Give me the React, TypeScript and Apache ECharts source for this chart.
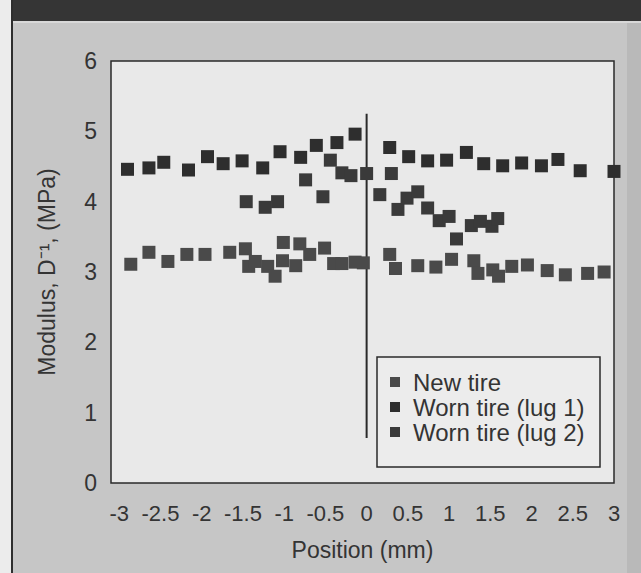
import React, { useEffect, useRef } from "react";
import * as echarts from "echarts";

// Worn tire (lug 1) – upper row
const lug1X = [-2.9, -2.64, -2.46, -2.16, -1.93, -1.74, -1.51, -1.26, -1.05, -0.8, -0.61, -0.36, -0.14, 0.28, 0.51, 0.74, 0.97, 1.21, 1.42, 1.65, 1.88, 2.12, 2.32, 2.59, 3.0];
const lug1Y = [4.46, 4.48, 4.56, 4.45, 4.64, 4.54, 4.58, 4.48, 4.71, 4.63, 4.8, 4.84, 4.96, 4.77, 4.64, 4.58, 4.59, 4.7, 4.54, 4.51, 4.55, 4.51, 4.6, 4.44, 4.43];

// Worn tire (lug 2) – middle group
const lug2X = [-1.46, -1.23, -1.08, -0.74, -0.53, -0.44, -0.3, -0.19, 0.0, 0.16, 0.3, 0.38, 0.49, 0.62, 0.74, 0.88, 1.0, 1.09, 1.27, 1.38, 1.52, 1.59];
const lug2Y = [4.0, 3.92, 4.0, 4.31, 4.07, 4.59, 4.41, 4.37, 4.4, 4.1, 4.4, 3.89, 4.05, 4.14, 3.91, 3.73, 3.79, 3.47, 3.66, 3.72, 3.65, 3.76];

// New tire – lower row
const newX = [-2.86, -2.64, -2.41, -2.18, -1.96, -1.66, -1.47, -1.43, -1.35, -1.2, -1.11, -1.02, -1.01, -0.86, -0.81, -0.69, -0.51, -0.4, -0.3, -0.14, -0.04, 0.28, 0.35, 0.62, 0.84, 1.03, 1.3, 1.35, 1.53, 1.6, 1.76, 1.95, 2.19, 2.41, 2.68, 2.88];
const newY = [3.11, 3.28, 3.15, 3.25, 3.25, 3.28, 3.33, 3.08, 3.15, 3.08, 2.94, 3.16, 3.42, 3.09, 3.4, 3.25, 3.34, 3.12, 3.12, 3.14, 3.13, 3.25, 3.05, 3.09, 3.07, 3.18, 3.16, 2.98, 3.03, 2.94, 3.08, 3.1, 3.02, 2.96, 2.98, 3.0];

// vertical reference line at position 0
const dividerX = [0, 0];
const dividerY = [0.64, 5.25];

const xTicks = [-3, -2.5, -2, -1.5, -1, -0.5, 0, 0.5, 1, 1.5, 2, 2.5, 3];
const seriesNames = ["New tire", "Worn tire (lug 1)", "Worn tire (lug 2)"];

const FONT = "'Liberation Sans', Arial, Helvetica, sans-serif";
const TXT = "#343434";

const zip = (xs: number[], ys: number[]) => xs.map((x, i) => [x, ys[i]]);

export default function App() {
  const ref = useRef<HTMLDivElement>(null);
  useEffect(() => {
    if (!ref.current) return;
    const chart = echarts.init(ref.current, null, { renderer: "svg" });
    const marker = (name: string, data: number[][], color: string) => ({
      name,
      type: "scatter",
      data,
      symbol: "rect",
      symbolSize: 13,
      itemStyle: { color, opacity: 1 },
      z: 3,
    });
    chart.setOption({
      animation: false,
      backgroundColor: "#c6c6c6",
      textStyle: { fontFamily: FONT },
      graphic: [
        { type: "rect", shape: { x: 0, y: 0, width: 11, height: 573 }, style: { fill: "#ececec" }, z: 0 },
        { type: "rect", shape: { x: 11, y: 0, width: 630, height: 21 }, style: { fill: "#353535" }, z: 0 },
        { type: "rect", shape: { x: 11, y: 21, width: 630, height: 2 }, style: { fill: "#d8d8d8" }, z: 0 },
        { type: "rect", shape: { x: 11, y: 0, width: 2, height: 573 }, style: { fill: "#2e2e2e" }, z: 0 },
        { type: "rect", shape: { x: 627, y: 23, width: 14, height: 550 }, style: { fill: "#b9b9b9" }, z: 0 },
        {
          type: "rect",
          shape: { x: 377, y: 357, width: 223, height: 110 },
          style: { fill: "#ececec", stroke: "#2a2a2a", lineWidth: 1.5 },
          z: 5,
        },
      ],
      grid: {
        left: 111,
        right: 27,
        top: 61,
        bottom: 90,
        show: true,
        backgroundColor: "#e9e9e9",
        borderColor: "#2a2a2a",
        borderWidth: 1.5,
      },
      legend: {
        data: seriesNames,
        orient: "vertical",
        left: 390,
        top: 370,
        padding: 0,
        itemWidth: 10,
        itemHeight: 10,
        itemGap: 1,
        icon: "rect",
        z: 6,
        textStyle: { fontSize: 24, lineHeight: 24, color: TXT, fontFamily: FONT, padding: [0, 0, 0, 8] },
      },
      xAxis: {
        type: "value",
        min: -3.1,
        max: 3,
        name: "Position (mm)",
        nameLocation: "middle",
        nameGap: 55,
        nameTextStyle: { fontSize: 23, color: TXT, fontFamily: FONT },
        axisLine: { show: false },
        axisTick: { show: false, customValues: xTicks },
        splitLine: { show: false },
        axisLabel: {
          customValues: xTicks,
          fontSize: 22,
          color: TXT,
          fontFamily: FONT,
          margin: 19,
          formatter: (v: number) => String(v),
        },
      },
      yAxis: {
        type: "value",
        min: 0,
        max: 6,
        interval: 1,
        name: "Modulus, D\u207B\u00B9, (MPa)",
        nameLocation: "middle",
        nameGap: 53,
        nameTextStyle: { fontSize: 23, color: TXT, fontFamily: FONT },
        axisLine: { show: false },
        axisTick: { show: false },
        splitLine: { show: false },
        axisLabel: { fontSize: 23, color: TXT, fontFamily: FONT, margin: 14 },
      },
      series: [
        marker(seriesNames[0], zip(newX, newY), "#4a4a4a"),
        marker(seriesNames[1], zip(lug1X, lug1Y), "#2e2e2e"),
        marker(seriesNames[2], zip(lug2X, lug2Y), "#3a3a3a"),
        {
          type: "line",
          data: zip(dividerX, dividerY),
          symbol: "none",
          lineStyle: { color: "#2a2a2a", width: 2 },
          z: 2,
          silent: true,
        },
      ],
    });
    return () => chart.dispose();
  }, []);
  return (
    <div
      ref={ref}
      style={{ position: "absolute", left: 0, top: 0, width: 641, height: 573 }}
    />
  );
}
